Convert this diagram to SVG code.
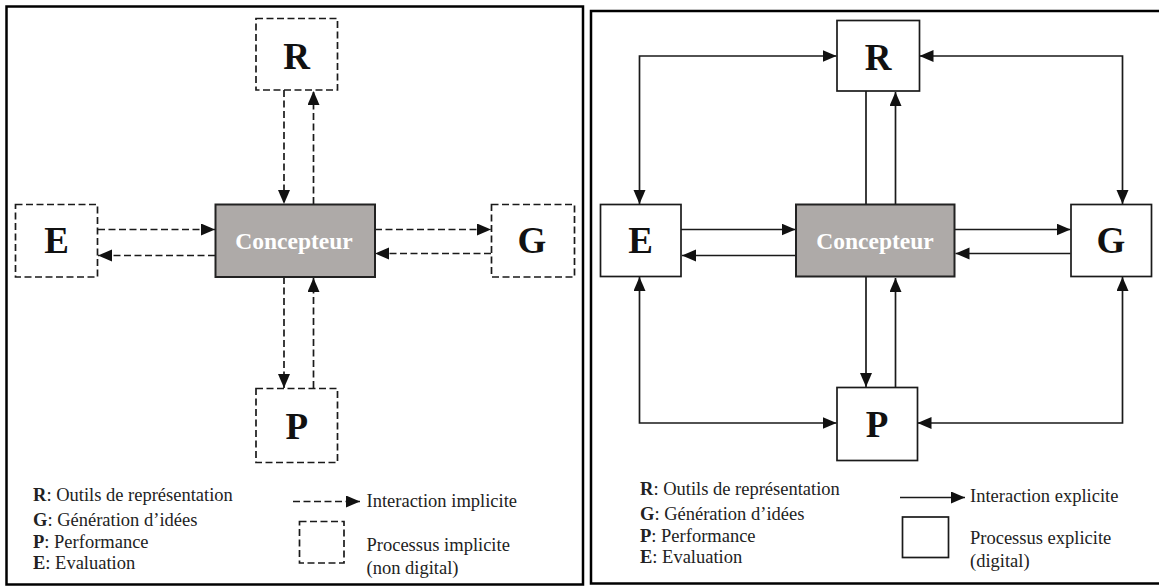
<svg xmlns="http://www.w3.org/2000/svg" width="1159" height="586" viewBox="0 0 1159 586">
  <style>
    .panel { fill: #fff; stroke: #000; stroke-width: 2.5; }
    .box { fill: #fff; stroke: #1a1a1a; stroke-width: 1.7; }
    .dbox { fill: #fff; stroke: #1a1a1a; stroke-width: 1.7; stroke-dasharray: 7 3.5; }
    .core { fill: #aeaaa8; stroke: #222; stroke-width: 2; }
    .letter { font-family: "Liberation Serif", "Times New Roman", serif; font-weight: bold; font-size: 37px; fill: #111; text-anchor: middle; }
    .core-label { font-family: "Liberation Serif", "Times New Roman", serif; font-weight: bold; font-size: 23.5px; fill: #fff; text-anchor: middle; }
    text.lg { font-family: "Liberation Serif", "Times New Roman", serif; font-size: 18.5px; fill: #222; }
    tspan.key { font-weight: bold; }
    .solid { fill: none; stroke: #1a1a1a; stroke-width: 1.7; }
    .dashed { fill: none; stroke: #1a1a1a; stroke-width: 1.7; stroke-dasharray: 7 3.5; }
  </style>
  <defs>
    <marker id="arrow" markerUnits="userSpaceOnUse" markerWidth="15" markerHeight="13" refX="14" refY="6" orient="auto-start-reverse">
      <path d="M0,0 L14,6 L0,12 Z" fill="#111"/>
    </marker>
  </defs>

  <!-- Panel frames -->
  <rect class="panel" x="6.5" y="6.5" width="576.5" height="578"/>
  <rect class="panel" x="591" y="11" width="572" height="572.5"/>

  <!-- ===== Left panel: implicit process ===== -->
  <g id="left-connectors">
    <line class="dashed" x1="284" y1="90" x2="284" y2="204" marker-end="url(#arrow)"/>
    <line class="dashed" x1="313.5" y1="204" x2="313.5" y2="91" marker-end="url(#arrow)"/>
    <line class="dashed" x1="98" y1="229.5" x2="215" y2="229.5" marker-end="url(#arrow)"/>
    <line class="dashed" x1="215" y1="255.5" x2="98" y2="255.5" marker-end="url(#arrow)"/>
    <line class="dashed" x1="375" y1="229.5" x2="491" y2="229.5" marker-end="url(#arrow)"/>
    <line class="dashed" x1="491" y1="253.5" x2="375" y2="253.5" marker-end="url(#arrow)"/>
    <line class="dashed" x1="284" y1="277" x2="284" y2="388" marker-end="url(#arrow)"/>
    <line class="dashed" x1="313.5" y1="388" x2="313.5" y2="278" marker-end="url(#arrow)"/>
  </g>

  <g id="left-R">
    <rect class="dbox" x="256" y="18.5" width="81.5" height="71.5"/>
    <text class="letter" x="296.7" y="68.5">R</text>
  </g>
  <g id="left-E">
    <rect class="dbox" x="15.5" y="204.5" width="82" height="72.5"/>
    <text class="letter" x="56.5" y="253">E</text>
  </g>
  <g id="left-concepteur">
    <rect class="core" x="215.5" y="204.5" width="159.5" height="72.5"/>
    <text class="core-label" x="294" y="248.5">Concepteur</text>
  </g>
  <g id="left-G">
    <rect class="dbox" x="491.5" y="204.5" width="83" height="72.5"/>
    <text class="letter" x="532" y="252.5">G</text>
  </g>
  <g id="left-P">
    <rect class="dbox" x="256" y="388.5" width="81.5" height="74"/>
    <text class="letter" x="296.7" y="438.5">P</text>
  </g>

  <g id="left-legend">
    <text class="lg" x="33" y="501"><tspan class="key">R</tspan>: Outils de représentation</text>
    <text class="lg" x="33" y="525.5"><tspan class="key">G</tspan>: Génération d’idées</text>
    <text class="lg" x="33" y="547.5"><tspan class="key">P</tspan>: Performance</text>
    <text class="lg" x="33" y="568.5"><tspan class="key">E</tspan>: Evaluation</text>
    <line class="dashed" x1="293" y1="501.5" x2="360" y2="501.5" marker-end="url(#arrow)"/>
    <text class="lg" x="366.5" y="507">Interaction implicite</text>
    <rect class="dbox" x="299.5" y="521.5" width="44.5" height="41.5"/>
    <text class="lg" x="366.5" y="550.5">Processus implicite</text>
    <text class="lg" x="366.5" y="573.5">(non digital)</text>
  </g>

  <!-- ===== Right panel: explicit process ===== -->
  <g id="right-connectors">
    <line class="solid" x1="866" y1="91" x2="866" y2="204"/>
    <line class="solid" x1="895.5" y1="204" x2="895.5" y2="92" marker-end="url(#arrow)"/>
    <line class="solid" x1="866" y1="277" x2="866" y2="387" marker-end="url(#arrow)"/>
    <line class="solid" x1="895.5" y1="387" x2="895.5" y2="278" marker-end="url(#arrow)"/>
    <line class="solid" x1="681" y1="229.5" x2="795.5" y2="229.5" marker-end="url(#arrow)"/>
    <line class="solid" x1="795.5" y1="255.5" x2="682" y2="255.5" marker-end="url(#arrow)"/>
    <line class="solid" x1="954.5" y1="229.5" x2="1070.5" y2="229.5" marker-end="url(#arrow)"/>
    <line class="solid" x1="1070.5" y1="253.5" x2="955.5" y2="253.5" marker-end="url(#arrow)"/>
    <path class="solid" d="M836.5 56 H639.5 V204" marker-start="url(#arrow)" marker-end="url(#arrow)"/>
    <path class="solid" d="M919.5 56 H1122.5 V204" marker-start="url(#arrow)" marker-end="url(#arrow)"/>
    <path class="solid" d="M639.5 277 V423 H836.5" marker-start="url(#arrow)" marker-end="url(#arrow)"/>
    <path class="solid" d="M1122.5 277 V423 H917.5" marker-start="url(#arrow)" marker-end="url(#arrow)"/>
  </g>

  <g id="right-R">
    <rect class="box" x="837" y="20.5" width="82.5" height="70.5"/>
    <text class="letter" x="878" y="69.5">R</text>
  </g>
  <g id="right-E">
    <rect class="box" x="600.5" y="204.5" width="80.5" height="72"/>
    <text class="letter" x="640.7" y="253">E</text>
  </g>
  <g id="right-concepteur">
    <rect class="core" x="796" y="204.5" width="158.5" height="72"/>
    <text class="core-label" x="875" y="248.5">Concepteur</text>
  </g>
  <g id="right-G">
    <rect class="box" x="1071" y="204.5" width="80.5" height="72"/>
    <text class="letter" x="1111" y="252.5">G</text>
  </g>
  <g id="right-P">
    <rect class="box" x="837" y="387.5" width="80.5" height="73"/>
    <text class="letter" x="877" y="436.5">P</text>
  </g>

  <g id="right-legend">
    <text class="lg" x="640" y="495"><tspan class="key">R</tspan>: Outils de représentation</text>
    <text class="lg" x="640" y="520"><tspan class="key">G</tspan>: Génération d’idées</text>
    <text class="lg" x="640" y="541.5"><tspan class="key">P</tspan>: Performance</text>
    <text class="lg" x="640" y="563"><tspan class="key">E</tspan>: Evaluation</text>
    <line class="solid" x1="900" y1="497.5" x2="965" y2="497.5" marker-end="url(#arrow)"/>
    <text class="lg" x="970" y="502">Interaction explicite</text>
    <rect class="box" x="902.5" y="517" width="46" height="40.5"/>
    <text class="lg" x="970" y="543.5">Processus explicite</text>
    <text class="lg" x="970" y="567">(digital)</text>
  </g>
</svg>
